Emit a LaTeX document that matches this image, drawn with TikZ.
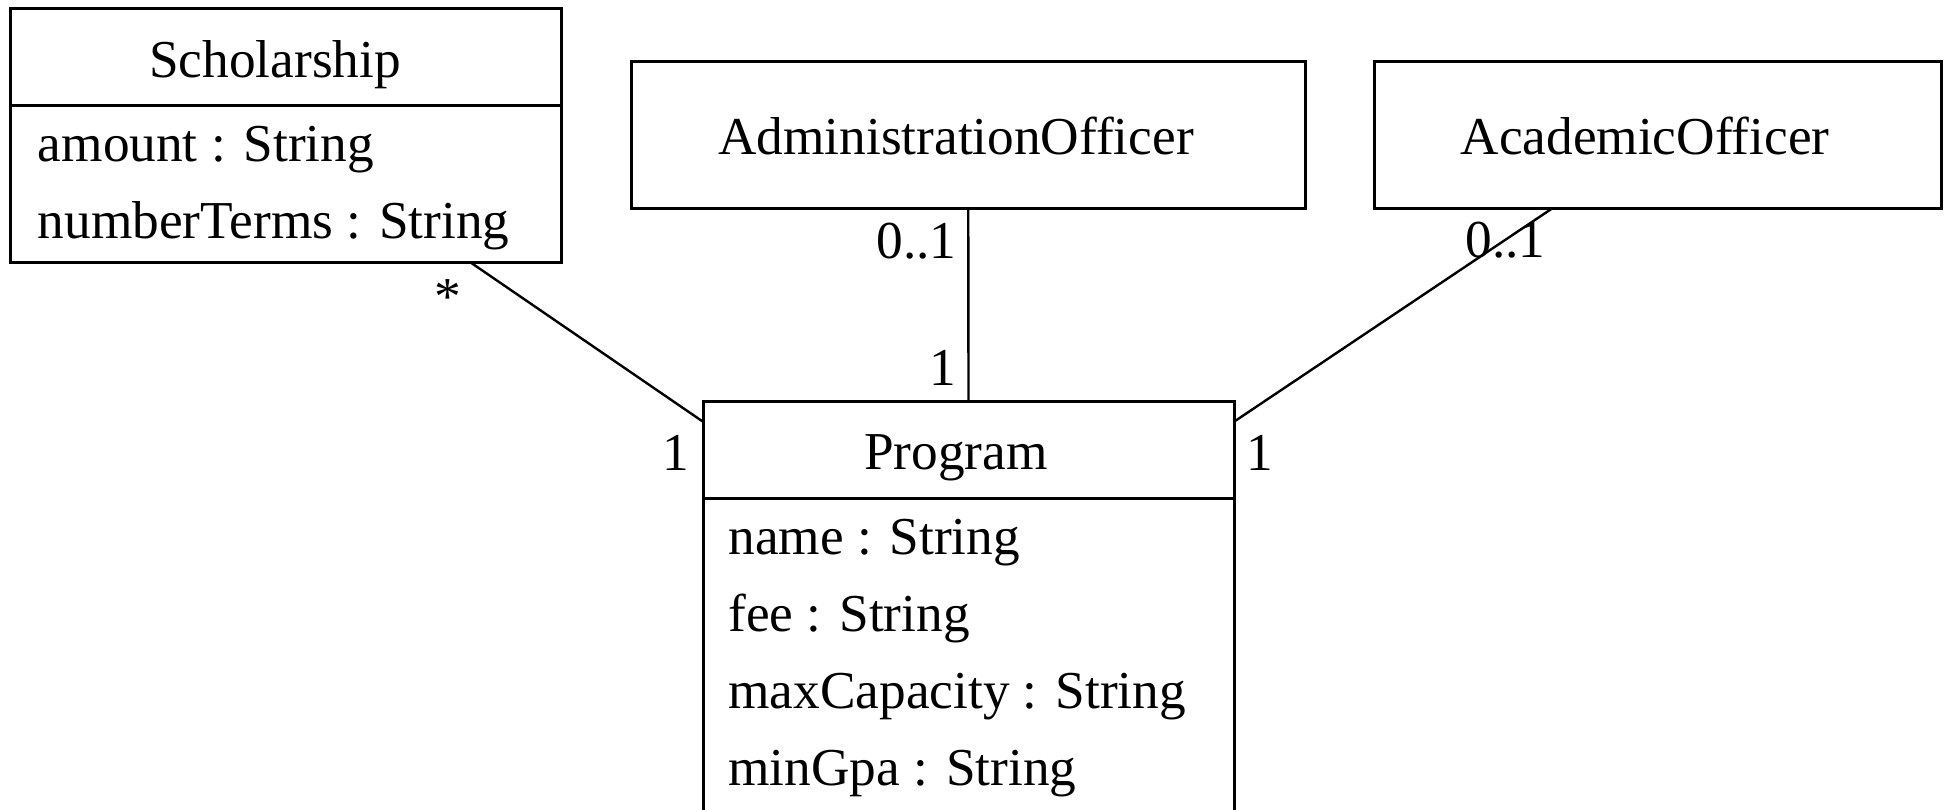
\documentclass[tikz,border=0pt]{standalone}
\usepackage{fontspec}
\setmainfont{Liberation Serif}
\usetikzlibrary{calc}
\begin{document}
\begin{tikzpicture}[x=0.5pt,y=-0.5pt,
  classbox/.style={draw, line width=1.5pt, rectangle, inner sep=0pt, outer sep=0pt},
  assoc/.style={line width=1.2pt},
  txt/.style={inner sep=0pt, font=\fontsize{26.65}{38.5}\selectfont},
]
\clip (0,0) rectangle (1948,809);

% Scholarship class
\node[classbox, minimum width=275.75pt, minimum height=48.5pt] (scholHead) at (285.75,57.15) {};
\node[classbox, minimum width=275.75pt, minimum height=78.2pt] (scholBody) at (285.75,183.8) {};
\node[txt, anchor=base] (scholName) at (275,77) {Scholarship};
\node[txt, anchor=base west] (scholA1) at (37.5,161) {amount : String};
\node[txt, anchor=base west] (scholA2) at (37.5,238) {numberTerms : String};

% AdministrationOfficer class
\node[classbox, minimum width=337.25pt, minimum height=73.5pt] (admin) at (968.25,135) {};
\node[txt, anchor=base] (adminName) at (956,154) {AdministrationOfficer};

% AcademicOfficer class
\node[classbox, minimum width=283.5pt, minimum height=73.5pt] (academic) at (1657.5,135) {};
\node[txt, anchor=base] (academicName) at (1645,154) {AcademicOfficer};

% Program class
\node[classbox, minimum width=265.5pt, minimum height=48.15pt] (progHead) at (968.5,449.85) {};
\node[classbox, minimum width=265.5pt, minimum height=176pt] (progBody) at (968.5,674) {};
\node[txt, anchor=base] (progName) at (956,469) {Program};
\node[txt, anchor=base west] (progA1) at (728,554) {name : String};
\node[txt, anchor=base west] (progA2) at (728,631) {fee : String};
\node[txt, anchor=base west] (progA3) at (728,708) {maxCapacity : String};
\node[txt, anchor=base west] (progA4) at (728,785) {minGpa : String};

% Associations
\draw[assoc] ($(scholBody.south west)!0.834!(scholBody.south east)$) -- ($(progHead.north west)+(0,20)$);
\draw[assoc] (admin.south) -- (progHead.north);
\draw[assoc] ($(academic.south west)!0.314!(academic.south east)$) -- ($(progHead.north east)+(0,20)$);

% Multiplicities
\node[txt, anchor=base] (mScholStar) at (448,314) {*};
\node[txt, anchor=base east] (mScholOne) at (690,470) {1};
\node[txt, anchor=base east] (mAdminZ) at (957,258) {0..1};
\node[txt, anchor=base east] (mAdminOne) at (957,385) {1};
\node[txt, anchor=base west] (mAcadZ) at (1465,257) {0..1};
\node[txt, anchor=base west] (mAcadOne) at (1246,470) {1};
\end{tikzpicture}
\end{document}
